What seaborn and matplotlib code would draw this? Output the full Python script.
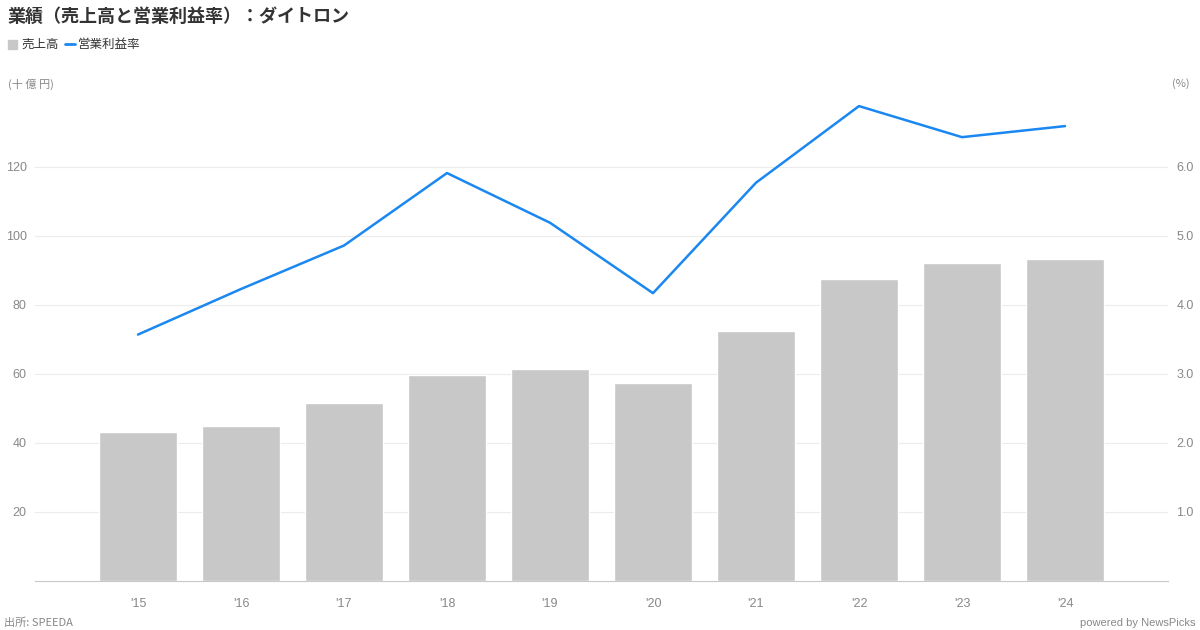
# 業績（売上高と営業利益率）：ダイトロン

import pandas as pd
import matplotlib.pyplot as plt
import seaborn as sns

years = ["'15", "'16", "'17", "'18", "'19", "'20", "'21", "'22", "'23", "'24"]
sales = [43.2, 44.9, 51.6, 59.7, 61.5, 57.4, 72.5, 87.6, 92.0, 93.4]  # 十億円
margin = [3.57, 4.23, 4.86, 5.91, 5.19, 4.17, 5.77, 6.88, 6.43, 6.59]  # %

left_ticks = [20, 40, 60, 80, 100, 120]
right_ticks = [1.0, 2.0, 3.0, 4.0, 5.0, 6.0]

df = pd.DataFrame({"year": years, "sales": sales, "margin": margin})
df["x"] = range(len(df))

sns.set_style("white")
plt.rcParams['font.family'] = ['Noto Sans CJK JP', 'DejaVu Sans']
num_font = ['Liberation Sans', 'DejaVu Sans']

bar_color = "#c8c8c8"
line_color = "#1a88f0"
tick_color = "#888888"

fig = plt.figure(figsize=(12, 6.3), dpi=100)
ax = fig.add_axes([35 / 1200, 1 - 581 / 630, (1168 - 35) / 1200, (581 - 84) / 630])

sns.barplot(data=df, x="x", y="sales", color=bar_color, width=0.75,
            saturation=1, ax=ax, zorder=2, native_scale=True)
ax.set_xlim(-1, 10)
ax.set_ylim(0, 144)
ax.set_yticks(left_ticks)
ax.set_yticklabels([str(t) for t in left_ticks], family=num_font)
ax.set_xticks(df["x"])
ax.set_xticklabels(years, family=num_font)
ax.grid(axis="y", color="#ececec", linewidth=0.8, zorder=0)
ax.set_xlabel("")
ax.set_ylabel("")
for s in ["top", "right", "left"]:
    ax.spines[s].set_visible(False)
ax.spines["bottom"].set_color("#c8c8c8")
ax.tick_params(axis="both", length=0, colors=tick_color, labelsize=9)
ax.tick_params(axis="x", pad=12)
ax.tick_params(axis="y", pad=6)

ax2 = ax.twinx()
sns.lineplot(data=df, x="x", y="margin", color=line_color, linewidth=1.8, ax=ax2, zorder=3)
ax2.set_ylim(0, 7.2)
ax2.set_yticks(right_ticks)
ax2.set_yticklabels([f"{t:.1f}" for t in right_ticks], family=num_font)
ax2.set_ylabel("")
ax2.set_xlim(-1, 10)
for s in ax2.spines.values():
    s.set_visible(False)
ax2.tick_params(axis="y", length=0, colors=tick_color, labelsize=9, pad=6)

fig.text(8 / 1200, 1 - 16 / 630, "業績（売上高と営業利益率）：ダイトロン", fontsize=13,
         fontweight="bold", color="#333333", va="center", ha="left")

# legend
fig.patches.append(plt.Rectangle((8 / 1200, 1 - 49 / 630), 9 / 1200, 9 / 630,
                                 transform=fig.transFigure, color=bar_color))
fig.text(21 / 1200, 1 - 44.5 / 630, "売上高", fontsize=9, color="#333333", va="center")
fig.lines.append(plt.Line2D([65 / 1200, 75 / 1200], [1 - 44 / 630, 1 - 44 / 630],
                            transform=fig.transFigure, color=line_color, linewidth=2))
fig.text(78 / 1200, 1 - 44.5 / 630, "営業利益率", fontsize=9, color="#333333", va="center")

fig.text(8 / 1200, 1 - 84 / 630, "(十 億 円)", fontsize=8, color=tick_color, va="center")
fig.text(1190 / 1200, 1 - 84 / 630, "(%)", fontsize=8, color=tick_color, va="center", ha="right")
fig.text(4 / 1200, 1 - 623 / 630, "出所: SPEEDA", fontsize=8, color=tick_color, va="center",
         family=['Noto Sans CJK JP', 'DejaVu Sans'])
fig.text(1196 / 1200, 1 - 623 / 630, "powered by NewsPicks", fontsize=8, color=tick_color,
         va="center", ha="right", family=num_font)

fig.savefig("out.png", dpi=100)
